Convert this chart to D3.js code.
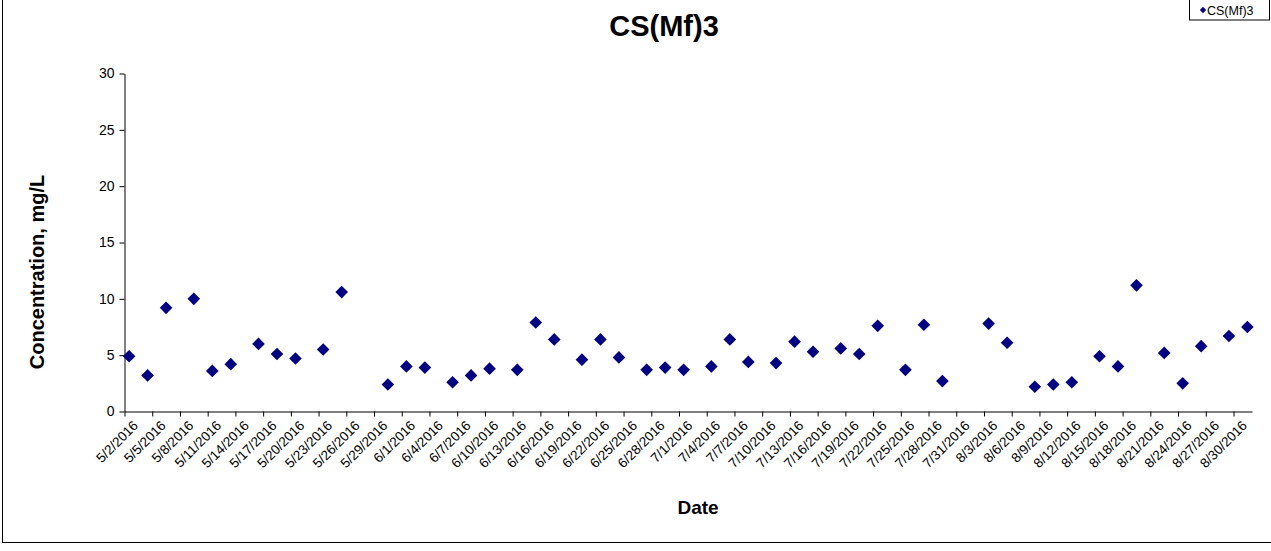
<!DOCTYPE html>
<html>
<head>
<meta charset="utf-8">
<script src="https://cdn.jsdelivr.net/npm/d3@7"></script>
<style>
  body { margin: 0; background: #fff; }
  text { font-family: "Liberation Sans", Arial, sans-serif; }
</style>
</head>
<body>
<div id="chart"></div>
<script>
const width = 1271,
  height = 551,
  margin = { top: 73.5, bottom: 139.5, left: 124.5, right: 19 };

// sample dates and concentrations (mg/L)
const dates = [
  "5/2/2016", "5/4/2016", "5/6/2016", "5/9/2016", "5/11/2016", "5/13/2016",
  "5/16/2016", "5/18/2016", "5/20/2016", "5/23/2016", "5/25/2016", "5/30/2016",
  "6/1/2016", "6/3/2016", "6/6/2016", "6/8/2016", "6/10/2016", "6/13/2016",
  "6/15/2016", "6/17/2016", "6/20/2016", "6/22/2016", "6/24/2016", "6/27/2016",
  "6/29/2016", "7/1/2016", "7/4/2016", "7/6/2016", "7/8/2016", "7/11/2016",
  "7/13/2016", "7/15/2016", "7/18/2016", "7/20/2016", "7/22/2016", "7/25/2016",
  "7/27/2016", "7/29/2016", "8/3/2016", "8/5/2016", "8/8/2016", "8/10/2016",
  "8/12/2016", "8/15/2016", "8/17/2016", "8/19/2016", "8/22/2016", "8/24/2016",
  "8/26/2016", "8/29/2016", "8/31/2016"
];
const values = [
  4.9, 3.2, 9.2, 10.0, 3.6, 4.2,
  6.0, 5.1, 4.7, 5.5, 10.6, 2.4,
  4.0, 3.9, 2.6, 3.2, 3.8, 3.7,
  7.9, 6.4, 4.6, 6.4, 4.8, 3.7,
  3.9, 3.7, 4.0, 6.4, 4.4, 4.3,
  6.2, 5.3, 5.6, 5.1, 7.6, 3.7,
  7.7, 2.7, 7.8, 6.1, 2.2, 2.4,
  2.6, 4.9, 4.0, 11.2, 5.2, 2.5,
  5.8, 6.7, 7.5
];
const yTicks = [0, 5, 10, 15, 20, 25, 30];
const seriesName = "CS(Mf)3";

const parse = d3.timeParse("%m/%d/%Y");
const fmt = d => `${d.getMonth() + 1}/${d.getDate()}/${d.getFullYear()}`;
const data = dates.map((d, i) => ({ date: parse(d), value: values[i] }));

const svg = d3.select("#chart")
  .append("svg")
  .attr("width", width)
  .attr("height", height);

// outer chart frame
svg.append("rect")
  .attr("x", 2.5).attr("y", -5)
  .attr("width", width + 5).attr("height", 547.5)
  .attr("fill", "none").attr("stroke", "#000").attr("stroke-width", 1);

const x = d3.scaleTime()
  .domain([parse("5/2/2016"), parse("9/1/2016")])
  .range([margin.left, width - margin.right]);

const y = d3.scaleLinear()
  .domain([0, 30])
  .range([height - margin.bottom, margin.top]);

// x axis, tick every 3 days
const xAxis = d3.axisBottom(x)
  .tickValues(d3.timeDay.range(parse("5/2/2016"), parse("9/1/2016"), 3))
  .tickFormat(fmt)
  .tickSize(5)
  .tickSizeOuter(0);

const gx = svg.append("g")
  .attr("transform", `translate(0,${y(0)})`)
  .call(xAxis);
gx.select(".domain").attr("stroke", "#000");
gx.selectAll(".tick line").attr("stroke", "#000");
gx.selectAll(".tick text")
  .attr("font-size", 13.5)
  .attr("fill", "#000")
  .attr("text-anchor", "end")
  .attr("x", 0).attr("y", 0)
  .attr("dy", "0.72em")
  .attr("transform", "translate(7,8) rotate(-45)");

const yAxis = d3.axisLeft(y)
  .tickValues(yTicks)
  .tickSize(5)
  .tickSizeOuter(0)
  .tickPadding(5);

const gy = svg.append("g")
  .attr("transform", `translate(${x.range()[0]},0)`)
  .call(yAxis);
gy.select(".domain").attr("stroke", "#000");
gy.selectAll(".tick line").attr("stroke", "#000");
gy.selectAll(".tick text").attr("font-size", 14).attr("fill", "#000");

// points sit in the middle of their day
const diamond = d3.symbol().type(d3.symbolDiamond2).size(102);
svg.append("g")
  .selectAll("path")
  .data(data)
  .join("path")
  .attr("d", diamond)
  .attr("fill", "#000080")
  .attr("transform", d => `translate(${x(d3.timeHour.offset(d.date, 12))},${y(d.value)})`);

// titles
svg.append("text")
  .attr("x", 664).attr("y", 36)
  .attr("text-anchor", "middle")
  .attr("font-size", 29).attr("font-weight", "bold")
  .text(seriesName);

svg.append("text")
  .attr("x", 698).attr("y", 514)
  .attr("text-anchor", "middle")
  .attr("font-size", 19).attr("font-weight", "bold")
  .text("Date");

svg.append("text")
  .attr("transform", "translate(44,272) rotate(-90)")
  .attr("text-anchor", "middle")
  .attr("font-size", 20).attr("font-weight", "bold")
  .text("Concentration, mg/L");

// legend
const lg = svg.append("g");
lg.append("rect")
  .attr("x", 1189.5).attr("y", -1)
  .attr("width", 80).attr("height", 21)
  .attr("fill", "#fff").attr("stroke", "#000");
lg.append("path")
  .attr("d", d3.symbol().type(d3.symbolDiamond2).size(26))
  .attr("fill", "#000080")
  .attr("transform", "translate(1203,10)");
lg.append("text")
  .attr("x", 1207).attr("y", 14.5)
  .attr("font-size", 12.5)
  .text(seriesName);
</script>
</body>
</html>
